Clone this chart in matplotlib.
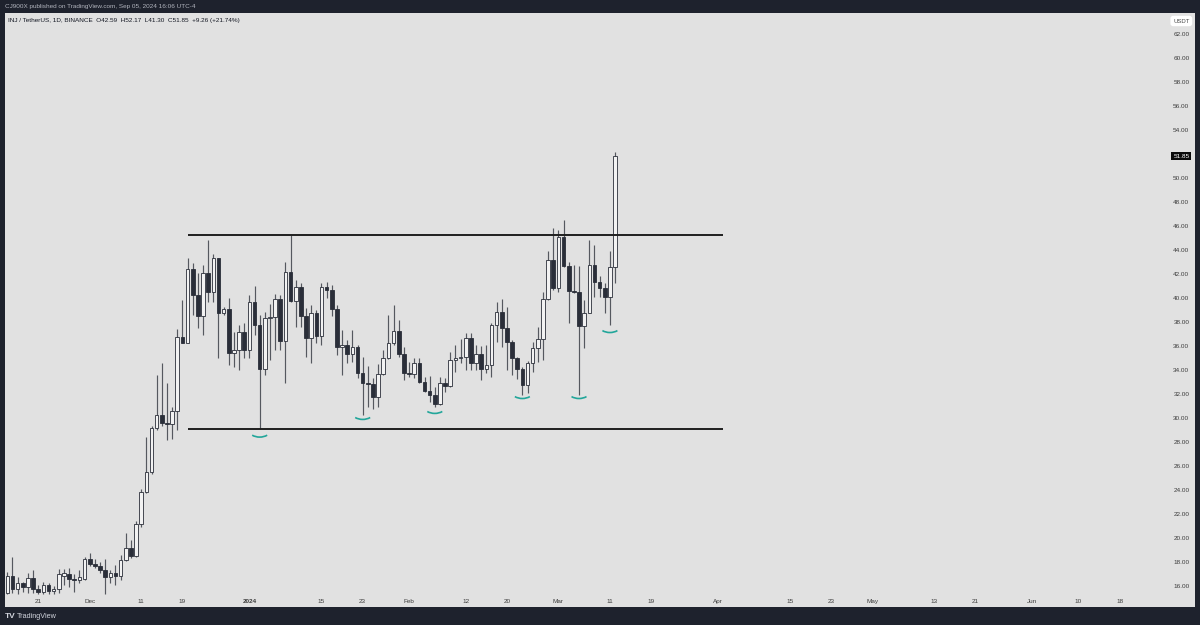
import numpy as np
import pandas as pd
import matplotlib
matplotlib.use("Agg")
import matplotlib.pyplot as plt
from matplotlib.patches import Arc
import matplotlib.transforms as mtransforms

plt.rcParams['font.family'] = ['Liberation Sans', 'DejaVu Sans']

# daily INJ/USDT candles, 2023-11-15 .. 2024-03-12
start = "2023-11-15"
opens = [15.50, 16.95, 15.85, 16.30, 16.00, 16.72, 15.85, 15.60, 16.15, 15.65,
         15.85, 16.95, 17.10, 16.65, 16.60, 16.70, 18.35, 17.90, 17.72, 17.40,
         16.80, 17.12, 16.95, 18.24, 19.21, 18.58, 21.24, 23.93, 25.59, 29.19,
         30.30, 29.66, 29.55, 30.63, 36.82, 36.32, 42.42, 40.28, 38.54, 42.08,
         40.56, 43.33, 38.76, 39.12, 35.48, 35.71, 37.23, 35.71, 39.73, 37.79,
         34.10, 38.34, 38.48, 39.92, 36.46, 42.17, 39.81, 40.98, 38.54, 36.73,
         38.81, 36.87, 40.98, 40.70, 39.12, 35.98, 36.12, 35.38, 35.93, 33.83,
         32.94, 32.88, 31.78, 33.72, 35.02, 36.32, 37.32, 35.38, 33.83, 33.70,
         34.60, 33.08, 32.33, 31.97, 31.22, 32.94, 32.72, 34.88, 35.02, 35.10,
         36.68, 34.60, 35.38, 34.10, 34.44, 37.76, 38.90, 37.52, 36.41, 35.02,
         34.10, 32.80, 34.66, 35.85, 36.60, 39.92, 43.20, 40.84, 45.08, 42.70,
         40.65, 40.56, 37.70, 38.82, 42.78, 41.39, 40.84, 40.09, 42.59]
highs = [17.25, 18.50, 16.80, 16.40, 17.15, 17.40, 16.20, 16.40, 16.35, 16.10,
         17.45, 17.50, 17.55, 17.05, 17.40, 18.45, 18.80, 18.30, 18.10, 18.30,
         17.40, 17.85, 18.65, 20.50, 19.90, 21.45, 24.12, 28.50, 29.35, 33.63,
         34.65, 32.93, 30.99, 37.50, 39.87, 43.33, 42.92, 42.08, 42.78, 44.86,
         43.69, 43.40, 39.30, 40.00, 37.23, 37.79, 37.93, 40.28, 41.03, 38.60,
         38.90, 39.53, 40.37, 40.28, 43.06, 45.27, 41.53, 41.31, 39.17, 39.45,
         39.03, 41.25, 41.39, 41.11, 39.45, 37.37, 36.54, 37.38, 36.13, 35.16,
         34.38, 33.36, 34.55, 35.71, 38.62, 39.46, 38.21, 35.99, 34.74, 35.02,
         35.02, 33.44, 33.55, 32.61, 33.49, 33.36, 35.57, 36.13, 36.60, 37.15,
         37.15, 36.13, 36.05, 36.13, 37.93, 39.73, 39.93, 39.32, 36.54, 35.16,
         34.32, 34.82, 36.40, 37.65, 40.56, 43.95, 45.83, 45.69, 46.52, 43.06,
         42.78, 42.70, 39.87, 44.86, 44.44, 41.86, 41.25, 43.95, 52.17]
lows = [15.45, 15.48, 15.45, 15.55, 15.50, 15.48, 15.40, 15.40, 15.40, 15.42,
        15.50, 16.15, 16.00, 15.60, 16.30, 16.55, 17.70, 17.55, 17.15, 15.45,
        16.30, 16.20, 16.55, 18.15, 18.40, 18.45, 21.00, 23.80, 25.40, 29.05,
        29.40, 28.22, 28.28, 29.05, 36.26, 36.26, 38.62, 37.51, 36.95, 39.73,
        39.73, 35.01, 38.62, 34.46, 34.32, 34.04, 35.01, 35.01, 36.95, 29.11,
        33.63, 34.88, 35.71, 35.71, 32.99, 39.70, 37.65, 37.65, 35.15, 34.60,
        36.26, 36.12, 40.00, 38.54, 35.29, 33.63, 34.60, 34.74, 33.36, 30.30,
        31.00, 30.78, 31.00, 33.63, 34.95, 36.13, 35.16, 33.22, 33.50, 33.40,
        33.00, 32.25, 31.41, 31.00, 31.14, 32.25, 32.66, 33.91, 34.60, 34.05,
        34.05, 34.05, 33.22, 33.77, 33.49, 36.41, 35.93, 34.05, 33.63, 33.30,
        31.96, 32.10, 33.91, 34.74, 34.88, 39.87, 40.70, 40.56, 42.64, 37.98,
        40.42, 31.96, 35.85, 38.76, 40.14, 40.14, 38.82, 37.79, 41.30]
closes = [16.95, 15.85, 16.30, 16.00, 16.72, 15.85, 15.60, 16.15, 15.65, 15.85,
          17.10, 17.12, 16.65, 16.55, 16.85, 18.35, 17.90, 17.72, 17.40, 16.80,
          17.12, 16.90, 18.24, 19.21, 18.58, 21.24, 23.93, 25.59, 29.19, 30.30,
          29.66, 29.55, 30.63, 36.82, 36.32, 42.42, 40.28, 38.54, 42.08, 40.56,
          43.33, 38.76, 39.12, 35.48, 35.71, 37.23, 35.71, 39.73, 37.79, 34.10,
          38.34, 38.48, 39.92, 36.46, 42.17, 39.81, 40.98, 38.54, 36.73, 38.81,
          36.87, 40.98, 40.70, 39.12, 35.98, 36.12, 35.38, 35.93, 33.83, 32.94,
          32.88, 31.78, 33.72, 35.02, 36.32, 37.32, 35.38, 33.83, 33.70, 34.60,
          33.08, 32.33, 31.97, 31.22, 32.94, 32.72, 34.88, 35.02, 35.10, 36.68,
          34.60, 35.38, 34.10, 34.44, 37.76, 38.90, 37.52, 36.41, 35.02, 34.10,
          32.80, 34.66, 35.85, 36.60, 39.92, 43.20, 40.84, 45.08, 42.70, 40.65,
          40.56, 37.70, 38.82, 42.78, 41.39, 40.84, 40.09, 42.59, 51.85]

# range lines drawn on the chart
range_levels = [45.28, 29.14]
range_from = "2023-12-20"
range_to = "2024-04-02"

# teal "smile" marks under the lows
arc_dates = ["2024-01-03", "2024-01-23", "2024-02-06", "2024-02-23", "2024-03-05", "2024-03-11"]
arc_levels = [28.92, 30.39, 30.89, 32.13, 32.13, 37.62]

# axis labels
price_ticks = [16, 18, 20, 22, 24, 26, 28, 30, 32, 34, 36, 38, 40, 42, 44, 46, 48, 50,
               52, 54, 56, 58, 60, 62]
date_ticks = ["2023-11-21", "2023-12-01", "2023-12-11", "2023-12-19", "2024-01-01",
              "2024-01-15", "2024-01-23", "2024-02-01", "2024-02-12", "2024-02-20",
              "2024-03-01", "2024-03-11", "2024-03-19", "2024-04-01", "2024-04-15",
              "2024-04-23", "2024-05-01", "2024-05-13", "2024-05-21", "2024-06-01",
              "2024-06-10", "2024-06-18"]
date_labels = ["21", "Dec", "11", "19", "2024", "15", "23", "Feb", "12", "20", "Mar",
               "11", "19", "Apr", "15", "23", "May", "13", "21", "Jun", "10", "18"]

t0 = pd.Timestamp(start)


def day(d):
    return (pd.Timestamp(d) - t0).days


o = np.array(opens)
h = np.array(highs)
l = np.array(lows)
c = np.array(closes)
x = np.arange(len(o))

bg = "#e1e1e1"
frame = "#1e222d"
ink = "#131722"

fig = plt.figure(figsize=(12, 6.25), dpi=100, facecolor=frame)
ax = fig.add_axes([5 / 1200, 18 / 625, 1190 / 1200, 594 / 625])
ax.set_facecolor(bg)
for s in ax.spines.values():
    s.set_visible(False)
ax.set_xticks([])
ax.set_yticks([])
ax.set_xlim(-0.45, 230.6)
ax.set_ylim(14.33, 63.75)

# candles
up = c >= o
ax.vlines(x, l, h, color="#55585f", linewidth=0.85, zorder=2)
body_lo = np.minimum(o, c)
body_h = np.maximum(np.abs(c - o), 0.08)
ax.bar(x[up], body_h[up], bottom=body_lo[up], width=0.7, color="#f2f2f2",
       edgecolor="#2a2e39", linewidth=0.6, zorder=3)
ax.bar(x[~up], body_h[~up], bottom=body_lo[~up], width=0.7, color="#2a2e39",
       edgecolor="#2a2e39", linewidth=0.6, zorder=3)

# range
ax.hlines(range_levels, day(range_from), day(range_to), color="#1f1f1f", linewidth=1.4, zorder=4)

# arcs
b = 0.69
for d, lv in zip(arc_dates, arc_levels):
    arc = Arc((day(d), lv + 0.342 * b), 4.54, 2 * b, theta1=200, theta2=340,
              color="#22a69a", linewidth=1.2, zorder=5)
    ax.add_patch(arc)

# price scale (inside the panel, right side)
ty = mtransforms.blended_transform_factory(ax.transAxes, ax.transData)
for p in price_ticks:
    ax.text(0.9885, p, "%.2f" % p, transform=ty, ha="center", va="center",
            fontsize=4.6, color="#3c3c3c")
ax.text(0.9885, c[-1], "%.2f" % c[-1], transform=ty, ha="center", va="center",
        fontsize=4.6, color="white",
        bbox=dict(boxstyle="square,pad=0.3", facecolor="#0b0b0b", edgecolor="none"))
ax.text(0.9885, 0.9865, "USDT", transform=ax.transAxes, ha="center", va="center",
        fontsize=4.3, color="#4a4a4a",
        bbox=dict(boxstyle="round,pad=0.45", facecolor="white", edgecolor="none"))

# time scale
tx = mtransforms.blended_transform_factory(ax.transData, ax.transAxes)
for d, lab in zip(date_ticks, date_labels):
    ax.text(day(d), 0.0101, lab, transform=tx, ha="center", va="center",
            fontsize=4.6, color="#3c3c3c",
            fontweight="bold" if lab == "2024" else "normal")

# header
ax.text(3 / 1190, 0.988, "INJ / TetherUS, 1D, BINANCE  O42.59  H52.17  L41.30  C51.85  +9.26 (+21.74%)",
        transform=ax.transAxes, ha="left", va="center", fontsize=4.6, color=ink)
fig.text(5 / 1200, 1 - 6.5 / 625, "CJ900X published on TradingView.com, Sep 05, 2024 16:06 UTC-4",
         ha="left", va="center", fontsize=4.6, color="#b2b5be")

# footer logo
fig.text(5 / 1200, 8 / 625, "TV", ha="left", va="center", fontsize=6,
         fontweight="bold", color="#d1d4dc")
fig.text(17 / 1200, 8 / 625, "TradingView", ha="left", va="center", fontsize=5.2,
         color="#d1d4dc")

fig.savefig("out.png", dpi=100, facecolor=frame)
